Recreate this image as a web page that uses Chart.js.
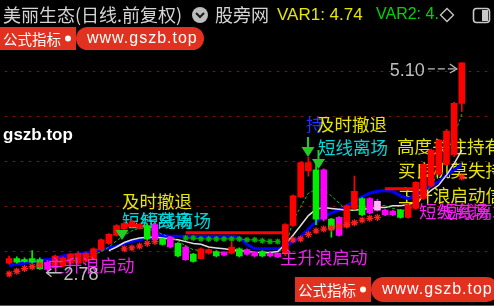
<!DOCTYPE html>
<html>
<head>
<meta charset="utf-8">
<script src="https://cdn.jsdelivr.net/npm/chart.js@4.4.1/dist/chart.umd.min.js"></script>
<style>
html, body { margin: 0; padding: 0; background: #000; overflow: hidden; }
canvas { display: block; }
</style>
</head>
<body>
<canvas id="kline" width="494" height="306"></canvas>
<script>
// 日K数据 (60根K线, 右侧留3格空位)
const days = Array.from({ length: 63 }, (_, i) => 'D' + (i + 1));

const opens  = [2.87,2.92,2.91,2.92,2.91,2.88,2.82,2.84,2.87,2.87,2.89,2.92,3.02,3.09,3.18,3.25,3.28,3.26,3.29,3.30,
                3.14,3.16,3.09,3.05,2.97,2.92,2.98,3.00,2.99,2.98,3.03,3.02,2.99,3.00,2.98,2.98,2.98,3.29,3.61,3.90,
                3.91,3.91,3.36,3.38,3.27,3.48,3.59,3.59,3.56,3.46,3.45,3.46,3.38,3.48,3.59,3.73,3.86,3.97,4.08,4.65];
const highs  = [2.95,2.94,2.93,3.01,2.93,2.90,2.96,2.94,2.98,2.99,2.99,3.04,3.14,3.20,3.30,3.33,3.35,3.31,3.31,3.31,
                3.15,3.17,3.10,3.07,2.98,3.04,3.03,3.01,3.00,3.11,3.04,3.03,3.00,3.01,2.99,2.99,3.31,3.63,4.00,4.05,
                3.99,3.92,3.37,3.39,3.52,3.84,3.60,3.60,3.58,3.47,3.46,3.47,3.53,3.78,3.98,4.14,4.25,4.36,4.66,5.10];
const lows   = [2.86,2.87,2.88,2.87,2.80,2.78,2.81,2.83,2.86,2.86,2.88,2.92,3.01,3.08,3.17,3.24,3.27,3.25,3.13,3.12,
                3.07,3.04,2.94,2.90,2.88,2.92,2.97,2.94,2.95,2.97,2.94,2.96,2.94,2.94,2.94,2.93,2.95,3.28,3.60,3.84,
                3.30,3.34,3.16,3.17,3.26,3.47,3.40,3.42,3.45,3.40,3.40,3.37,3.37,3.47,3.58,3.72,3.85,3.96,4.06,4.56];
const closes = [2.92,2.88,2.89,2.88,2.81,2.80,2.95,2.93,2.97,2.98,2.98,3.03,3.13,3.19,3.29,3.31,3.33,3.30,3.14,3.13,
                3.08,3.05,2.95,2.91,2.89,3.03,3.02,2.95,2.96,3.05,2.95,2.97,2.95,2.95,2.95,2.94,3.30,3.62,3.99,3.99,
                3.36,3.36,3.25,3.18,3.51,3.67,3.41,3.43,3.46,3.41,3.41,3.38,3.52,3.77,3.97,4.13,4.24,4.34,4.65,5.10];
// r 阳线  g 绿阴线  m 紫阴线  p 浅紫
const kinds = 'rggggmrrrrrrrrrrrrgmgmgmgrrgmrgmmgmmrrrrgmgmrrgmpmmgrrrrrrrr'.split('');

// 均线与信号线
const maBlue  = [2.84,2.86,2.87,2.88,2.90,2.91,2.92,2.95,2.96,2.97,2.99,3.00,3.02,3.04,3.06,3.09,3.11,3.13,3.15,3.17,
                 3.18,3.17,3.17,3.17,3.17,3.17,3.17,3.17,3.17,3.17,3.16,3.08,3.03,3.03,3.03,3.03,3.05,3.11,3.16,3.25,
                 3.33,3.39,3.43,3.46,3.51,3.56,3.61,3.65,3.67,3.68,3.67,3.62,3.59,3.63,3.68,3.73,3.78,3.85,3.91,3.97];
const maWhite = [null,null,null,null,null,null,null,null,null,null,null,null,null,3.01,3.05,3.10,3.13,3.15,3.16,3.16,
                 3.15,3.14,3.13,3.11,3.09,3.08,3.05,3.04,3.03,3.02,3.01,3.00,2.99,2.99,2.99,3.00,3.08,3.18,3.29,3.40,
                 3.47,3.49,3.48,3.47,3.46,3.46,3.47,3.48,3.49,3.49,3.51,3.51,3.52,3.55,3.61,3.68,3.74,3.85,3.98,4.13];
const maGreen = [2.89,2.89,2.89,2.90,2.88,2.86,2.87,2.88,2.89,2.91,2.92,2.96,3.00,3.05,3.12,3.18,3.23,3.26,3.25,3.23,
                 3.19,3.16,3.12,3.06,3.02,3.01,3.00,2.99,2.99,3.00,3.00,2.99,2.99,2.98,2.98,2.98,3.05,3.34,3.50,3.65,
                 3.69,3.68,3.62,3.54,3.46,3.46,3.48,3.51,3.52,3.51,3.48,3.46,3.46,3.54,3.63,3.73,3.89,4.08,4.29,4.53];
const pressLine = [null,null,null,null,null,null,null,null,null,null,null,null,null,null,null,3.29,3.29,3.29,null,null,
                   null,null,null,3.21,3.21,3.21,3.21,3.21,3.21,3.21,3.21,3.21,3.21,3.21,3.21,3.21,3.21,null,null,null,
                   null,null,null,null,null,null,null,null,null,3.70,3.70,3.70,3.70,3.70,null,null,null,null,null,null];
const greenStars = [null,null,null,null,null,null,null,null,null,null,null,null,null,null,null,null,null,null,null,null,
                    null,null,null,3.15,3.15,3.14,3.14,3.14,3.14,3.14,3.14,3.13,3.13,3.12,3.11,3.11];
const redStars = [2.75,2.78,2.81,2.83,2.85,null,null,null,null,null,null,null,null,null,null,3.03,3.04,3.06,3.09,3.11,
                  null,null,null,null,null,null,null,null,null,null,null,null,null,null,null,null,null,3.13,3.14,3.19,
                  3.23,3.25,3.26,3.28,3.30,3.32,3.35,3.37,3.38,null,null,null,null,null,null,null,null,null,null,3.83];

const gridLevels = [3.0, 3.5, 4.0, 4.5, 5.0];

const kindColor = { r: '#ff0000', g: '#00ee00', m: '#ff00ff', p: '#ffb8ff' };
const wickColor = { r: '#ff0000', g: '#00ee00', m: '#ff00ff', p: '#ff00ff' };

const CJK = "'Noto Sans CJK SC', sans-serif";
const LAT = "'Liberation Sans', Arial, sans-serif";
const YEL = '#e6e600', CYAN = '#00d8d8', MAG = '#f020f0';

// 信号文字 (top: 画在K线之上)
const signals = [
    { t: '及时撤退', x: 122, y: 201, c: YEL },
    { t: '短线离场', x: 122, y: 220, c: CYAN },
    { t: '短线离场', x: 141, y: 220, c: CYAN },
    { t: '主升浪启动', x: 47, y: 265, c: MAG, top: true },
    { t: '持', x: 306, y: 124, c: '#2030ff' },
    { t: '及时撤退', x: 317, y: 124, c: YEL },
    { t: '短线离场', x: 318, y: 147, c: CYAN },
    { t: '主升浪启动', x: 280, y: 257, c: MAG, top: true },
    { t: '高度关注持有', x: 397, y: 146, c: YEL },
    { t: '买良机莫失持', x: 398, y: 170, c: YEL },
    { t: '主升浪启动信', x: 398, y: 195, c: YEL },
    { t: '短线离场', x: 419, y: 211, c: MAG },
    { t: '短线离场', x: 440, y: 211, c: MAG }
];

function roundRect(ctx, x, y, w, h, r) {
    ctx.beginPath();
    ctx.moveTo(x + r, y);
    ctx.lineTo(x + w - r, y);
    ctx.arcTo(x + w, y, x + w, y + r, r);
    ctx.lineTo(x + w, y + h - r);
    ctx.arcTo(x + w, y + h, x + w - r, y + h, r);
    ctx.lineTo(x + r, y + h);
    ctx.arcTo(x, y + h, x, y + h - r, r);
    ctx.lineTo(x, y + r);
    ctx.arcTo(x, y, x + r, y, r);
    ctx.closePath();
}

function badge(ctx, x, y, h) {
    ctx.fillStyle = '#e2321f';
    ctx.fillRect(x, y, 76, h);
    roundRect(ctx, x + 76, y, 128, h, h / 2);
    ctx.fill();
    ctx.fillStyle = '#ffffff';
    ctx.font = '14.5px ' + CJK;
    ctx.fillText('公式指标', x + 3, y + h / 2 + 0.5);
    ctx.beginPath();
    ctx.arc(x + 68, y + h / 2, 3, 0, Math.PI * 2);
    ctx.fill();
    ctx.font = '16px ' + LAT;
    ctx.letterSpacing = '1px';
    ctx.fillText('www.gszb.top', x + 87, y + h / 2);
    ctx.letterSpacing = '0px';
}

function downArrow(ctx, cx, top, stemTop) {
    ctx.fillStyle = '#22cc22';
    ctx.strokeStyle = '#22cc22';
    if (stemTop != null) {
        ctx.lineWidth = 2;
        ctx.beginPath();
        ctx.moveTo(cx, stemTop);
        ctx.lineTo(cx, top);
        ctx.stroke();
    }
    ctx.beginPath();
    ctx.moveTo(cx - 6.5, top);
    ctx.lineTo(cx + 6.5, top);
    ctx.lineTo(cx, top + 10);
    ctx.closePath();
    ctx.fill();
}

function drawSignals(ctx, onTop) {
    ctx.save();
    ctx.textAlign = 'left';
    ctx.textBaseline = 'middle';
    ctx.font = '17.5px ' + CJK;
    signals.filter(s => !!s.top === onTop).forEach(s => {
        ctx.fillStyle = s.c;
        ctx.fillText(s.t, s.x, s.y);
    });
    ctx.restore();
}

const decor = {
    id: 'decor',
    beforeDatasetsDraw(chart) {
        drawSignals(chart.ctx, false);
    },
    afterDatasetsDraw(chart) {
        const ctx = chart.ctx;
        drawSignals(ctx, true);
        ctx.save();
        downArrow(ctx, 122, 230, null);
        downArrow(ctx, 308, 147, 137);
        downArrow(ctx, 318.5, 159, 150);
        ctx.restore();
    },
    afterDraw(chart) {
        const ctx = chart.ctx;
        const xs = chart.scales.x, ys = chart.scales.y;
        ctx.save();
        ctx.textBaseline = 'middle';

        // 最高/最低价标注
        const hi = Math.max(...highs), iHi = highs.indexOf(hi);
        const lo = Math.min(...lows), iLo = lows.indexOf(lo);
        const hx = xs.getPixelForValue(iHi) - 5, hy = ys.getPixelForValue(hi) + 5;
        const lx = xs.getPixelForValue(iLo) - 1, ly = ys.getPixelForValue(lo) + 1.5;
        ctx.strokeStyle = '#bdbdbd';
        ctx.fillStyle = '#bdbdbd';
        ctx.lineWidth = 1.3;
        ctx.font = '18px ' + LAT;
        ctx.textAlign = 'right';
        ctx.fillText(hi.toFixed(2), hx - 32, hy + 3);
        ctx.setLineDash([7, 3]);
        ctx.beginPath();
        ctx.moveTo(hx - 29, hy + 1);
        ctx.lineTo(hx, hy + 1);
        ctx.stroke();
        ctx.setLineDash([]);
        ctx.beginPath();
        ctx.moveTo(hx - 7, hy - 4);
        ctx.lineTo(hx, hy + 1);
        ctx.lineTo(hx - 7, hy + 5);
        ctx.stroke();

        ctx.textAlign = 'left';
        ctx.fillText(lo.toFixed(2), lx + 17, ly + 2);
        ctx.beginPath();
        ctx.moveTo(lx, ly);
        ctx.lineTo(lx + 15, ly);
        ctx.moveTo(lx + 5, ly - 4);
        ctx.lineTo(lx, ly);
        ctx.lineTo(lx + 5, ly + 4);
        ctx.stroke();

        // 底部边线
        ctx.strokeStyle = '#5a5a5a';
        ctx.lineWidth = 1;
        ctx.beginPath();
        ctx.moveTo(0, 305.5);
        ctx.lineTo(494, 305.5);
        ctx.stroke();

        // 标题栏
        ctx.font = '18px ' + CJK;
        ctx.fillStyle = '#d4d4d4';
        ctx.fillText('美丽生态(日线.前复权)', 3, 15);
        ctx.beginPath();
        ctx.arc(200, 15, 8, 0, Math.PI * 2);
        ctx.fillStyle = '#bdbdbd';
        ctx.fill();
        ctx.beginPath();
        ctx.moveTo(196, 13);
        ctx.lineTo(200, 17);
        ctx.lineTo(204, 13);
        ctx.strokeStyle = '#1a1a1a';
        ctx.lineWidth = 2;
        ctx.stroke();
        ctx.fillStyle = '#d4d4d4';
        ctx.fillText('股旁网', 215, 15);
        ctx.font = '17px ' + LAT;
        ctx.fillStyle = YEL;
        ctx.fillText('VAR1: 4.74', 277, 15);
        ctx.font = '16px ' + LAT;
        ctx.fillStyle = '#00d400';
        ctx.fillText('VAR2: 4.', 376, 15);
        ctx.strokeStyle = '#c8c8c8';
        ctx.lineWidth = 1.3;
        ctx.beginPath();
        ctx.moveTo(447, 8.5);
        ctx.lineTo(453.5, 15);
        ctx.lineTo(447, 21.5);
        ctx.lineTo(440.5, 15);
        ctx.closePath();
        ctx.stroke();
        ctx.lineWidth = 1.6;
        roundRect(ctx, 473.5, 8.5, 16, 14, 3);
        ctx.stroke();
        ctx.fillStyle = '#c8c8c8';
        ctx.fillRect(482, 10, 6, 11);

        // 水印
        badge(ctx, 0, 27, 23);
        badge(ctx, 295, 277, 25);
        ctx.font = 'bold 17px ' + LAT;
        ctx.fillStyle = '#ffffff';
        ctx.fillText('gszb.top', 3, 135);
        ctx.restore();
    }
};

const wicks = highs.map((h, i) => [lows[i], h]);
const bodies = opens.map((o, i) => [Math.min(o, closes[i]), Math.max(o, closes[i])]);

const lineBase = { type: 'line', pointRadius: 0, tension: 0, spanGaps: false, fill: false };

new Chart(document.getElementById('kline'), {
    type: 'bar',
    data: {
        labels: days,
        datasets: [
            { ...lineBase, label: 'redStars', data: redStars, showLine: false, pointStyle: 'star',
              pointRadius: 3.5, pointBorderColor: '#ff2020', pointBorderWidth: 1.3, order: 1 },
            { type: 'bar', label: 'body', data: bodies, grouped: false, barThickness: 6,
              backgroundColor: kinds.map(k => kindColor[k]), borderWidth: 0, order: 3 },
            { type: 'bar', label: 'wick', data: wicks, grouped: false, barThickness: 1,
              backgroundColor: kinds.map(k => wickColor[k]), borderWidth: 0, order: 4 },
            { ...lineBase, label: 'maGreen', data: maGreen, borderColor: '#00c800', borderWidth: 1,
              borderDash: [3, 2], order: 5 },
            { ...lineBase, label: 'maWhite', data: maWhite, borderColor: '#e0e0e0', borderWidth: 1.5, order: 6 },
            { ...lineBase, label: 'greenStars', data: greenStars, borderColor: '#00a000', borderWidth: 1,
              pointStyle: 'star', pointRadius: 3, pointBorderColor: '#00b400', pointBorderWidth: 1.2, order: 7 },
            { ...lineBase, label: 'press', data: pressLine, borderColor: '#ff0000', borderWidth: 3, order: 8 },
            { ...lineBase, label: 'maBlue', data: maBlue, borderColor: '#0000ff', borderWidth: 3, order: 9 }
        ]
    },
    options: {
        responsive: false,
        animation: false,
        events: [],
        layout: { padding: 0 },
        plugins: { legend: { display: false }, tooltip: { enabled: false } },
        scales: {
            x: { display: false, offset: true },
            y: {
                min: 2.452,
                max: 5.742,
                afterFit: s => { s.width = 0; },
                afterBuildTicks: s => { s.ticks = gridLevels.map(v => ({ value: v })); },
                ticks: { display: false },
                border: { display: false, dash: [2, 6] },
                grid: { color: '#b00000', lineWidth: 1, drawTicks: false }
            }
        }
    },
    plugins: [decor]
});
</script>
</body>
</html>
